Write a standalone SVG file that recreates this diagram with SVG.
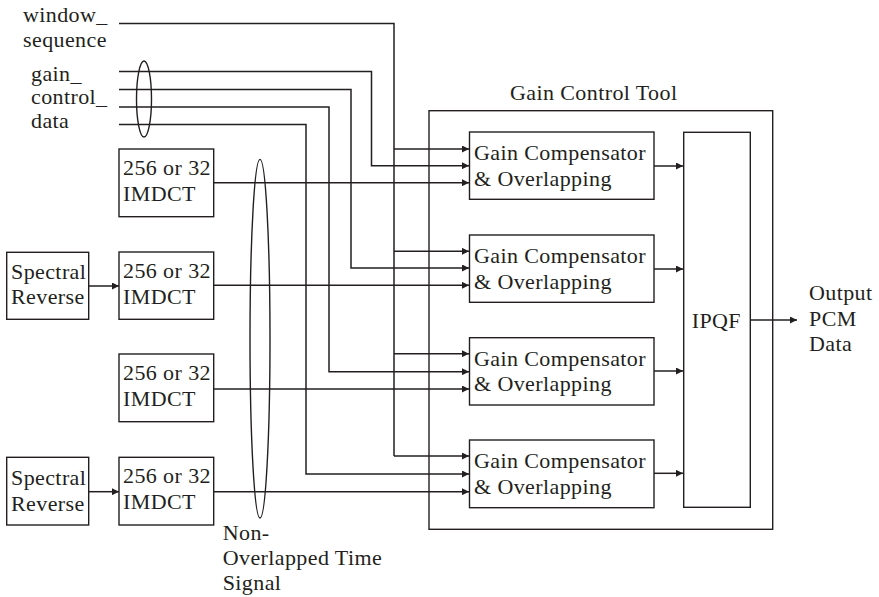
<svg xmlns="http://www.w3.org/2000/svg" width="879" height="597" viewBox="0 0 879 597">
<defs>
<marker id="ah" viewBox="0 0 10 10" refX="10" refY="5" markerWidth="9" markerHeight="7" markerUnits="userSpaceOnUse" orient="auto">
<path d="M0,0 L10,5 L0,10 z" fill="#231f20"/>
</marker>
<style>
text{font-family:"Liberation Serif","Times New Roman",serif;font-size:22px;fill:#231f20;letter-spacing:0.4px}
.box{fill:#fff;stroke:#231f20;stroke-width:1.4}
.ln{fill:none;stroke:#231f20;stroke-width:1.5}
.ar{fill:none;stroke:#231f20;stroke-width:1.5;marker-end:url(#ah)}
.ell{fill:none;stroke:#231f20;stroke-width:1.4}
</style>
</defs>
<rect width="879" height="597" fill="#fff"/>

<g id="gain-control-tool">
<rect class="box" x="429" y="110.7" width="343.7" height="418.6"/>
<text x="510" y="100">Gain Control Tool</text>
</g>

<g id="labels">
<text x="23" y="22">window_</text>
<text x="23" y="47">sequence</text>
<text x="31" y="81">gain_</text>
<text x="31" y="104">control_</text>
<text x="31" y="128">data</text>
<text x="222.7" y="540">Non-</text>
<text x="222.7" y="565">Overlapped Time</text>
<text x="222.7" y="590">Signal</text>
<text x="809" y="300">Output</text>
<text x="809" y="326">PCM</text>
<text x="809" y="351">Data</text>
</g>

<g id="connectors">
<!-- window_sequence -->
<polyline class="ln" points="119,23.5 394,23.5 394,456"/>
<line class="ar" x1="394" y1="149" x2="469" y2="149"/>
<line class="ar" x1="394" y1="251.3" x2="469" y2="251.3"/>
<line class="ar" x1="394" y1="353.7" x2="469" y2="353.7"/>
<line class="ar" x1="394" y1="456" x2="469" y2="456"/>
<!-- gain_control_data -->
<polyline class="ar" points="119,71.5 371.5,71.5 371.5,165.7 469,165.7"/>
<polyline class="ar" points="119,89.5 351,89.5 351,268 469,268"/>
<polyline class="ar" points="119,107 329,107 329,371.7 469,371.7"/>
<polyline class="ar" points="119,124.5 306,124.5 306,474 469,474"/>
<!-- IMDCT outputs -->
<line class="ar" x1="213.7" y1="182.7" x2="469" y2="182.7"/>
<line class="ar" x1="213.7" y1="285.3" x2="469" y2="285.3"/>
<line class="ar" x1="213.7" y1="389" x2="469" y2="389"/>
<line class="ar" x1="213.7" y1="491.7" x2="469" y2="491.7"/>
<!-- spectral reverse -> IMDCT -->
<line class="ar" x1="88.7" y1="286" x2="119" y2="286"/>
<line class="ar" x1="88.7" y1="491.7" x2="119" y2="491.7"/>
<!-- gain comp -> IPQF -->
<line class="ar" x1="654" y1="166" x2="683" y2="166"/>
<line class="ar" x1="654" y1="269" x2="683" y2="269"/>
<line class="ar" x1="654" y1="371" x2="683" y2="371"/>
<line class="ar" x1="654" y1="473.3" x2="683" y2="473.3"/>
<!-- IPQF output -->
<line class="ar" x1="750.3" y1="320" x2="797" y2="320"/>
<!-- bundle ellipses -->
<ellipse class="ell" cx="144" cy="99" rx="7.5" ry="38"/>
<ellipse class="ell" cx="260" cy="338.7" rx="10" ry="179.3"/>
</g>

<g id="imdct1">
<rect class="box" x="119" y="149" width="94.7" height="67.7"/>
<text x="123" y="174.7">256 or 32</text>
<text x="123" y="201">IMDCT</text>
</g>
<g id="imdct2">
<rect class="box" x="119" y="252" width="94.7" height="67.3"/>
<text x="123" y="277.7">256 or 32</text>
<text x="123" y="304">IMDCT</text>
</g>
<g id="imdct3">
<rect class="box" x="119" y="354" width="94.7" height="67.7"/>
<text x="123" y="379.7">256 or 32</text>
<text x="123" y="406">IMDCT</text>
</g>
<g id="imdct4">
<rect class="box" x="119" y="457.3" width="94.7" height="67.7"/>
<text x="123" y="483">256 or 32</text>
<text x="123" y="509">IMDCT</text>
</g>

<g id="spectral-reverse1">
<rect class="box" x="6.7" y="252.3" width="82" height="67"/>
<text x="11" y="279.3">Spectral</text>
<text x="11" y="304.3">Reverse</text>
</g>
<g id="spectral-reverse2">
<rect class="box" x="6.7" y="457.3" width="82" height="67.7"/>
<text x="11" y="485">Spectral</text>
<text x="11" y="510.7">Reverse</text>
</g>

<g id="gain-comp1">
<rect class="box" x="469.5" y="132" width="184.5" height="67.3"/>
<text x="474" y="160">Gain Compensator</text>
<text x="474" y="186">&amp; Overlapping</text>
</g>
<g id="gain-comp2">
<rect class="box" x="469.5" y="235" width="184.5" height="67.3"/>
<text x="474" y="263">Gain Compensator</text>
<text x="474" y="289">&amp; Overlapping</text>
</g>
<g id="gain-comp3">
<rect class="box" x="469.5" y="337.7" width="184.5" height="67.3"/>
<text x="474" y="365.5">Gain Compensator</text>
<text x="474" y="391">&amp; Overlapping</text>
</g>
<g id="gain-comp4">
<rect class="box" x="469.5" y="440" width="184.5" height="67.7"/>
<text x="474" y="468">Gain Compensator</text>
<text x="474" y="494">&amp; Overlapping</text>
</g>

<g id="ipqf">
<rect class="box" x="683.7" y="132.3" width="66.6" height="375"/>
<text x="691.7" y="328.3">IPQF</text>
</g>
</svg>
